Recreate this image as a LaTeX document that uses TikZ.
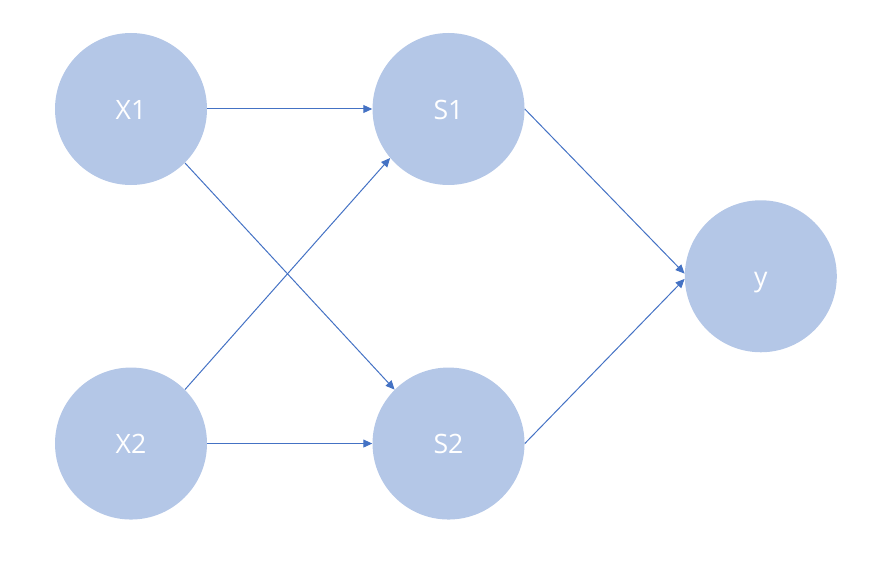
\documentclass[tikz,border=0pt]{standalone}
\usepackage{fontspec}
\setmainfont{Open Sans}
\usepackage{tikz}
\usetikzlibrary{positioning,arrows.meta}
\definecolor{nodeFill}{HTML}{B4C7E7}
\definecolor{edgeBlue}{HTML}{4472C4}

\begin{document}
\begin{tikzpicture}[node distance=123.75pt and 123.75pt,
    neuron/.style={circle,fill=nodeFill,draw=none,minimum size=114pt,inner sep=0pt,
                   text=white,text height=15.5pt,text depth=0pt,
                   font=\fontsize{20}{24}\selectfont},
    link/.style={draw=edgeBlue,line width=0.75pt,-{Triangle[length=6.75pt,width=6pt]}}]
    \useasboundingbox (-98.25pt,81.75pt) rectangle (557.25pt,-343.5pt);
    \node[neuron] (x1) {X1};
    \node[neuron,below=136.5pt of x1] (x2) {X2};
    \node[neuron,right=of x1] (s1) {S1};
    \node[neuron,right=of x2] (s2) {S2};
    \path (s1) -- (s2) coordinate[midway] (mid);
    \node[neuron,right=177pt of mid] (y) {y};

    \draw[link] (x1.east) -- (s1.west);
    \draw[link] (x1.-45) -- (s2.135);
    \draw[link] (x2.45) -- (s1.220);
    \draw[link] (x2.east) -- (s2.west);
    \draw[link] (s1.east) -- (y.178);
    \draw[link] (s2.east) -- (y.182);
  \end{tikzpicture}
\end{document}
